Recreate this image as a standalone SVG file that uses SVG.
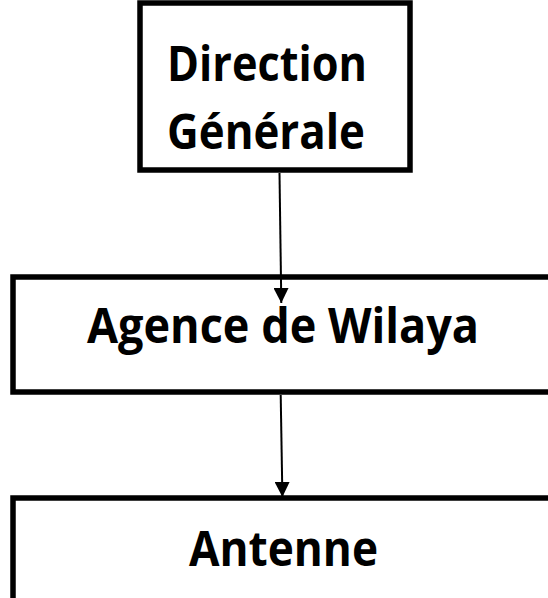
<svg xmlns="http://www.w3.org/2000/svg" width="548" height="598" viewBox="0 0 548 598">
<defs>
<style>
.box{fill:#fff;stroke:#000;stroke-width:5.5}
.lbl{font-family:"Open Sans","Noto Sans","Liberation Sans",sans-serif;font-weight:700;font-size:48px;fill:#000}
.conn{stroke:#000;stroke-width:2;fill:none}
</style>
<marker id="arr" viewBox="0 0 10 10" refX="10" refY="5" markerWidth="7.5" markerHeight="7.5" markerUnits="strokeWidth" orient="auto">
<path d="M0,0 L10,5 L0,10 z" fill="#000"/>
</marker>
</defs>
<rect width="548" height="598" fill="#fff"/>
<g id="node-direction">
<rect class="box" x="140" y="3" width="270" height="167"/>
<text class="lbl" x="167" y="81" textLength="200" lengthAdjust="spacingAndGlyphs">Direction</text>
<text class="lbl" x="167" y="149" textLength="198" lengthAdjust="spacingAndGlyphs">Générale</text>
</g>
<g id="node-agence">
<rect class="box" x="13" y="277" width="545" height="115"/>
<text class="lbl" x="87" y="343" textLength="392" lengthAdjust="spacingAndGlyphs">Agence de Wilaya</text>
</g>
<g id="node-antenne">
<rect class="box" x="13" y="498" width="545" height="120"/>
<text class="lbl" x="189" y="566" textLength="189" lengthAdjust="spacingAndGlyphs">Antenne</text>
</g>
<g id="connectors">
<line class="conn" x1="279.5" y1="173" x2="281.3" y2="303" marker-end="url(#arr)"/>
<line class="conn" x1="280.7" y1="395" x2="282.4" y2="497" marker-end="url(#arr)"/>
</g>
</svg>
